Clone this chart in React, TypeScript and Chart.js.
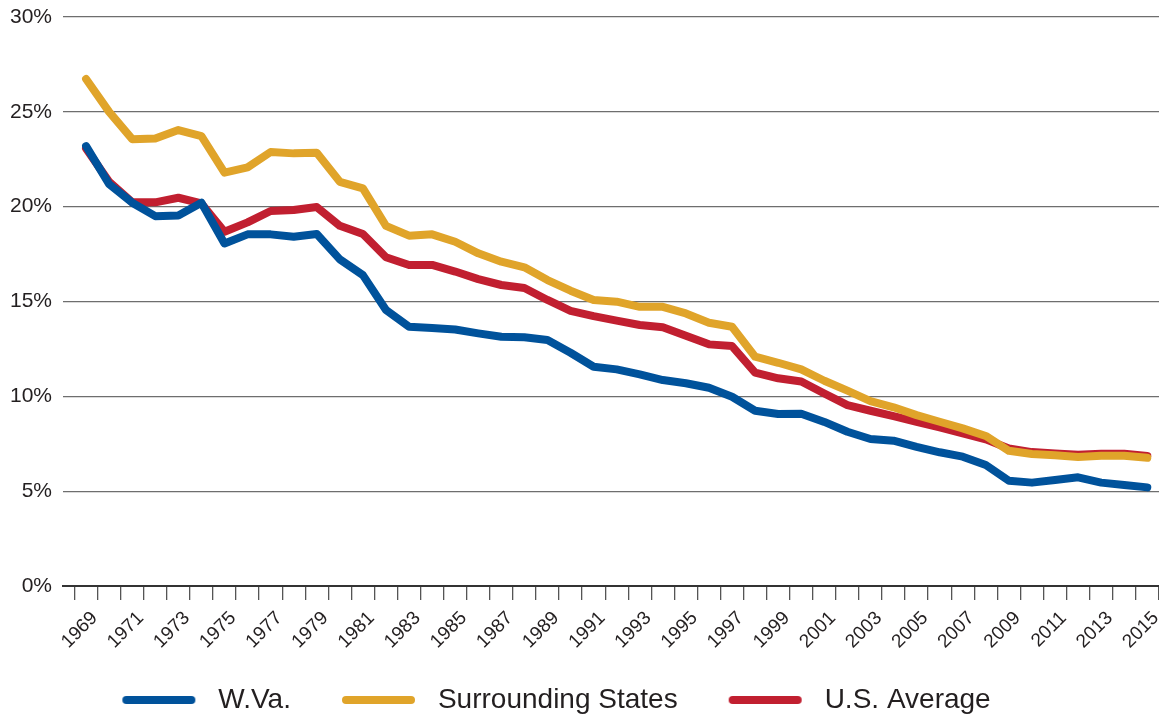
import React, { useEffect, useRef } from 'react';
import { Chart, registerables } from 'chart.js';

Chart.register(...registerables);

const years = [
  1969, 1970, 1971, 1972, 1973, 1974, 1975, 1976, 1977, 1978, 1979, 1980,
  1981, 1982, 1983, 1984, 1985, 1986, 1987, 1988, 1989, 1990, 1991, 1992,
  1993, 1994, 1995, 1996, 1997, 1998, 1999, 2000, 2001, 2002, 2003, 2004,
  2005, 2006, 2007, 2008, 2009, 2010, 2011, 2012, 2013, 2014, 2015,
];

const wva = [
  23.19, 21.19, 20.21, 19.5, 19.54, 20.21, 18.06, 18.54, 18.54, 18.41, 18.56, 17.22,
  16.39, 14.55, 13.67, 13.6, 13.52, 13.32, 13.14, 13.11, 12.97, 12.3, 11.56, 11.42,
  11.16, 10.86, 10.69, 10.45, 9.98, 9.24, 9.07, 9.08, 8.65, 8.13, 7.75, 7.66,
  7.34, 7.05, 6.82, 6.38, 5.55, 5.45, 5.59, 5.73, 5.45, 5.32, 5.2,
];

const surrounding = [
  26.73, 25.0, 23.56, 23.6, 24.04, 23.72, 21.79, 22.07, 22.88, 22.81, 22.84, 21.31,
  20.96, 18.99, 18.47, 18.54, 18.15, 17.54, 17.1, 16.8, 16.13, 15.57, 15.08, 14.99,
  14.72, 14.72, 14.37, 13.88, 13.67, 12.09, 11.77, 11.42, 10.82, 10.3, 9.75, 9.42,
  9.01, 8.66, 8.31, 7.91, 7.13, 6.96, 6.89, 6.8, 6.87, 6.87, 6.76,
];

const usAverage = [
  23.07, 21.31, 20.23, 20.23, 20.47, 20.17, 18.68, 19.17, 19.77, 19.82, 19.98, 18.99,
  18.56, 17.33, 16.92, 16.93, 16.58, 16.18, 15.87, 15.71, 15.08, 14.51, 14.23, 13.99,
  13.76, 13.64, 13.19, 12.74, 12.65, 11.25, 10.95, 10.78, 10.15, 9.54, 9.24, 8.96,
  8.66, 8.36, 8.05, 7.73, 7.25, 7.06, 6.99, 6.92, 6.97, 6.97, 6.86,
];

const xLabelYears = [
  1969, 1971, 1973, 1975, 1977, 1979, 1981, 1983, 1985, 1987, 1989, 1991,
  1993, 1995, 1997, 1999, 2001, 2003, 2005, 2007, 2009, 2011, 2013, 2015,
];

const seriesNames = ['W.Va.', 'Surrounding States', 'U.S. Average'];
const seriesColors = ['#00529b', '#e0a42a', '#c11f30'];

const FONT = "'Liberation Sans', Arial, Helvetica, sans-serif";
const TEXT = '#231f20';

// legend swatch: blank lead-in, then a 73px round-capped line, then a small gap
const SWATCH_LEAD = 21;
const SWATCH_W = SWATCH_LEAD + 82;

function makeSwatch(color: string): HTMLCanvasElement {
  const c = document.createElement('canvas');
  c.width = SWATCH_W;
  c.height = 10;
  const ctx = c.getContext('2d') as CanvasRenderingContext2D;
  ctx.strokeStyle = color;
  ctx.lineWidth = 8;
  ctx.lineCap = 'round';
  ctx.beginPath();
  ctx.moveTo(SWATCH_LEAD + 4, 5);
  ctx.lineTo(SWATCH_LEAD + 69, 5);
  ctx.stroke();
  return c;
}

const legendShift = {
  id: 'legendShift',
  afterLayout(chart: any) {
    const l = chart.legend;
    if (l) {
      l.left -= 39;
      l.right -= 39;
    }
  },
};

export default function App() {
  const ref = useRef<HTMLCanvasElement | null>(null);

  useEffect(() => {
    if (!ref.current) return;
    const series = [wva, surrounding, usAverage];
    const datasets = series.map((vals, i) => ({
      label: seriesNames[i],
      data: years.map((y, j) => ({ x: y, y: vals[j] })),
      borderColor: seriesColors[i],
      backgroundColor: seriesColors[i],
      borderWidth: 8,
      borderCapStyle: 'round' as const,
      borderJoinStyle: 'round' as const,
      pointRadius: 0,
      pointHoverRadius: 0,
      pointStyle: makeSwatch(seriesColors[i]),
      tension: 0,
      fill: false,
    }));

    const boundaries = years.map((y) => y - 0.5).concat([years[years.length - 1] + 0.5]);

    const chart = new Chart(ref.current, {
      type: 'line',
      data: { datasets },
      plugins: [legendShift],
      options: {
        animation: false,
        responsive: true,
        maintainAspectRatio: false,
        layout: { padding: { top: 0, left: 2, right: 0, bottom: 0 } },
        plugins: {
          tooltip: { enabled: false },
          title: { display: false },
          legend: {
            display: true,
            position: 'bottom',
            labels: {
              usePointStyle: true,
              pointStyleWidth: SWATCH_W,
              padding: 30,
              color: TEXT,
              font: { family: FONT, size: 28 },
            },
          },
        },
        scales: {
          x: {
            type: 'linear',
            min: 1968,
            max: 2015.55,
            afterBuildTicks(scale: any) {
              scale.ticks = boundaries.map((v) => ({ value: v }));
            },
            afterFit(scale: any) {
              scale.height = 70;
              scale.paddingLeft = 0;
              scale.paddingRight = 0;
            },
            ticks: {
              autoSkip: false,
              maxRotation: 45,
              minRotation: 45,
              padding: 7,
              labelOffset: -3,
              color: TEXT,
              font: { family: FONT, size: 19 },
              callback: (value: any) => {
                const yr = Math.round(Number(value) - 0.5);
                return xLabelYears.includes(yr) ? String(yr) : '';
              },
            },
            grid: {
              display: true,
              drawOnChartArea: false,
              drawTicks: true,
              tickLength: 14,
              color: '#555555',
              lineWidth: 1.3,
            },
            border: { display: true, color: '#333333', width: 2 },
          },
          y: {
            min: 0,
            max: 30,
            afterFit(scale: any) {
              scale.width = 53;
              scale.paddingTop = 9;
              scale.paddingBottom = 0;
            },
            ticks: {
              stepSize: 5,
              padding: 11,
              color: TEXT,
              font: { family: FONT, size: 21 },
              callback: (value: any) => `${value}%`,
            },
            grid: { color: '#6e6e6e', lineWidth: 1.2, drawTicks: false },
            border: { display: false },
          },
        },
      },
    });
    return () => chart.destroy();
  }, []);

  return (
    <div style={{ width: 1151, height: 709, overflow: 'hidden' }}>
      <div style={{ position: 'relative', width: 1152, height: 716 }}>
        <canvas ref={ref} />
      </div>
    </div>
  );
}
